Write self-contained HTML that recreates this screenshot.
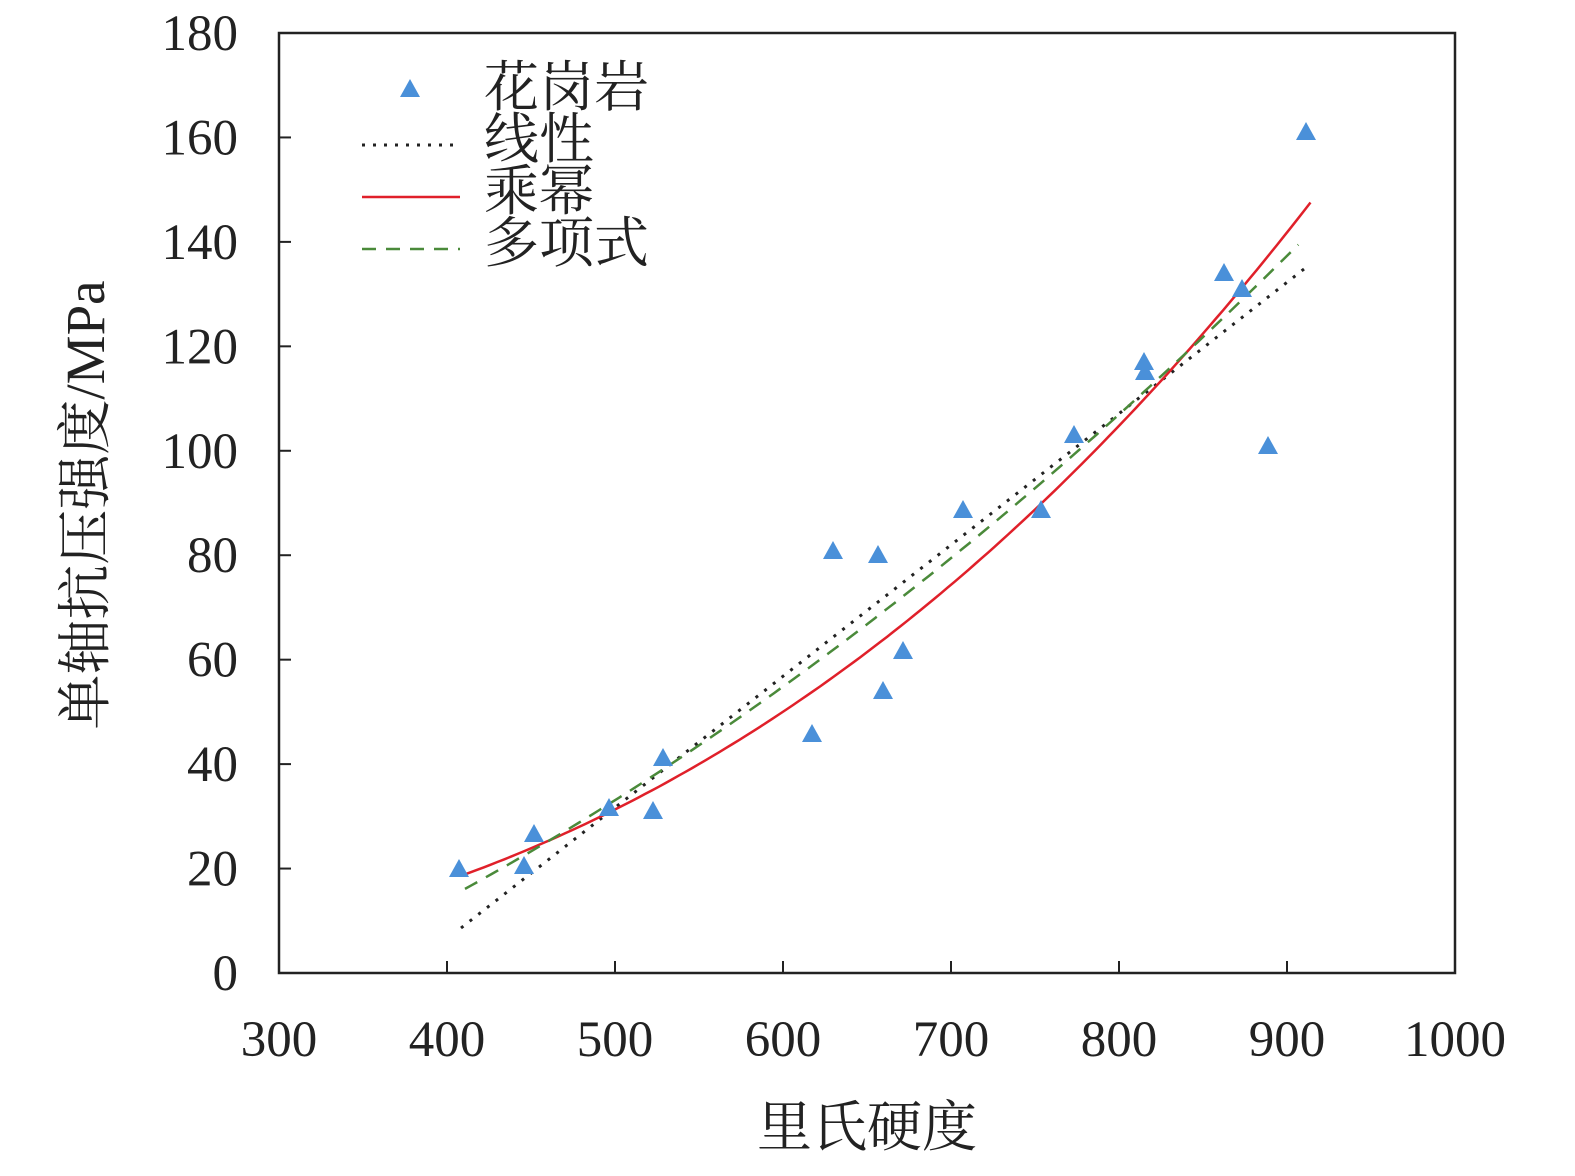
<!DOCTYPE html>
<html><head><meta charset="utf-8"><style>
body{margin:0;background:#fff}
svg text{font-family:"Liberation Serif","Noto Serif CJK SC",serif;fill:#222}
</style></head><body>
<svg id="s" width="1575" height="1171" xmlns="http://www.w3.org/2000/svg">
<rect x="279" y="33" width="1176" height="940" fill="none" stroke="#222" stroke-width="2.5"/>
<g id="ticks" stroke="#222" stroke-width="2"></g>
<g id="labels" font-size="51"></g>
<text x="867" y="1146" font-size="55" text-anchor="middle">里氏硬度</text>
<text transform="translate(104,505) rotate(-90)" font-size="55" text-anchor="middle">单轴抗压强度/MPa</text>
<g id="series"></g>
<polygon points="410,79 400,97 420,97" fill="#4a90d9"/>
<text x="484" y="106" font-size="55">花岗岩</text>
<line x1="362" y1="145" x2="460" y2="145" stroke="#222" stroke-width="3" stroke-dasharray="3,8"/>
<text x="484" y="158" font-size="55">线性</text>
<line x1="362" y1="197" x2="460" y2="197" stroke="#e0202a" stroke-width="2.5"/>
<text x="484" y="210" font-size="55">乘幂</text>
<line x1="362" y1="249" x2="460" y2="249" stroke="#4a8a3a" stroke-width="2.5" stroke-dasharray="14,10"/>
<text x="484" y="262" font-size="55">多项式</text>
</svg>
<script>
var ns="http://www.w3.org/2000/svg";
function X(v){return 279+(v-300)*1.68}
function Y(v){return 973-v*940/180}
function el(t,a,p){var e=document.createElementNS(ns,t);for(var k in a)e.setAttribute(k,a[k]);document.getElementById(p).appendChild(e);return e}
for(var v=400;v<=900;v+=100)el("line",{x1:X(v),x2:X(v),y1:973,y2:961},"ticks");
for(var v=20;v<=160;v+=20)el("line",{x1:279,x2:291,y1:Y(v),y2:Y(v)},"ticks");
for(var v=300;v<=1000;v+=100){var t=el("text",{x:X(v),y:1056,"text-anchor":"middle"},"labels");t.textContent=v;}
for(var v=0;v<=180;v+=20){var t=el("text",{x:238,y:Y(v)+17,"text-anchor":"end"},"labels");t.textContent=v;}
el("line",{x1:461,y1:928,x2:1304,y2:269,stroke:"#222","stroke-width":3,"stroke-dasharray":"3,8"},"series");
var d="";for(var x=410;x<=915;x+=4){var y=18.8*Math.pow(x/410,2.57);d+=(d?"L":"M")+X(x).toFixed(1)+","+Y(y).toFixed(1);}
el("path",{d:d,fill:"none",stroke:"#e0202a","stroke-width":2.5},"series");
var x0=410.7,x1=689,x2=909,y0=16.1,y1=76.6,y2=140.2;
function P(x){return y0*(x-x1)*(x-x2)/((x0-x1)*(x0-x2))+y1*(x-x0)*(x-x2)/((x1-x0)*(x1-x2))+y2*(x-x0)*(x-x1)/((x2-x0)*(x2-x1))}
d="";for(var x=410.7;x<=909;x+=4){d+=(d?"L":"M")+X(x).toFixed(1)+","+Y(P(x)).toFixed(1);}
el("path",{d:d,fill:"none",stroke:"#4a8a3a","stroke-width":2.5,"stroke-dasharray":"14,10"},"series");
var pts=[[459,869],[524,866],[534,834],[609,808],[653,811],[663,758],[812,734],[833,551],[878,555],[883,691],[903,651],[963,510],[1041,510],[1074,435],[1144,362],[1145,372],[1224,273],[1242,289],[1268,446],[1306,132]];
pts.forEach(function(p){el("polygon",{points:(p[0])+","+(p[1]-10)+" "+(p[0]-10)+","+(p[1]+8)+" "+(p[0]+10)+","+(p[1]+8),fill:"#4a90d9"},"series");});
</script>
</body></html>
